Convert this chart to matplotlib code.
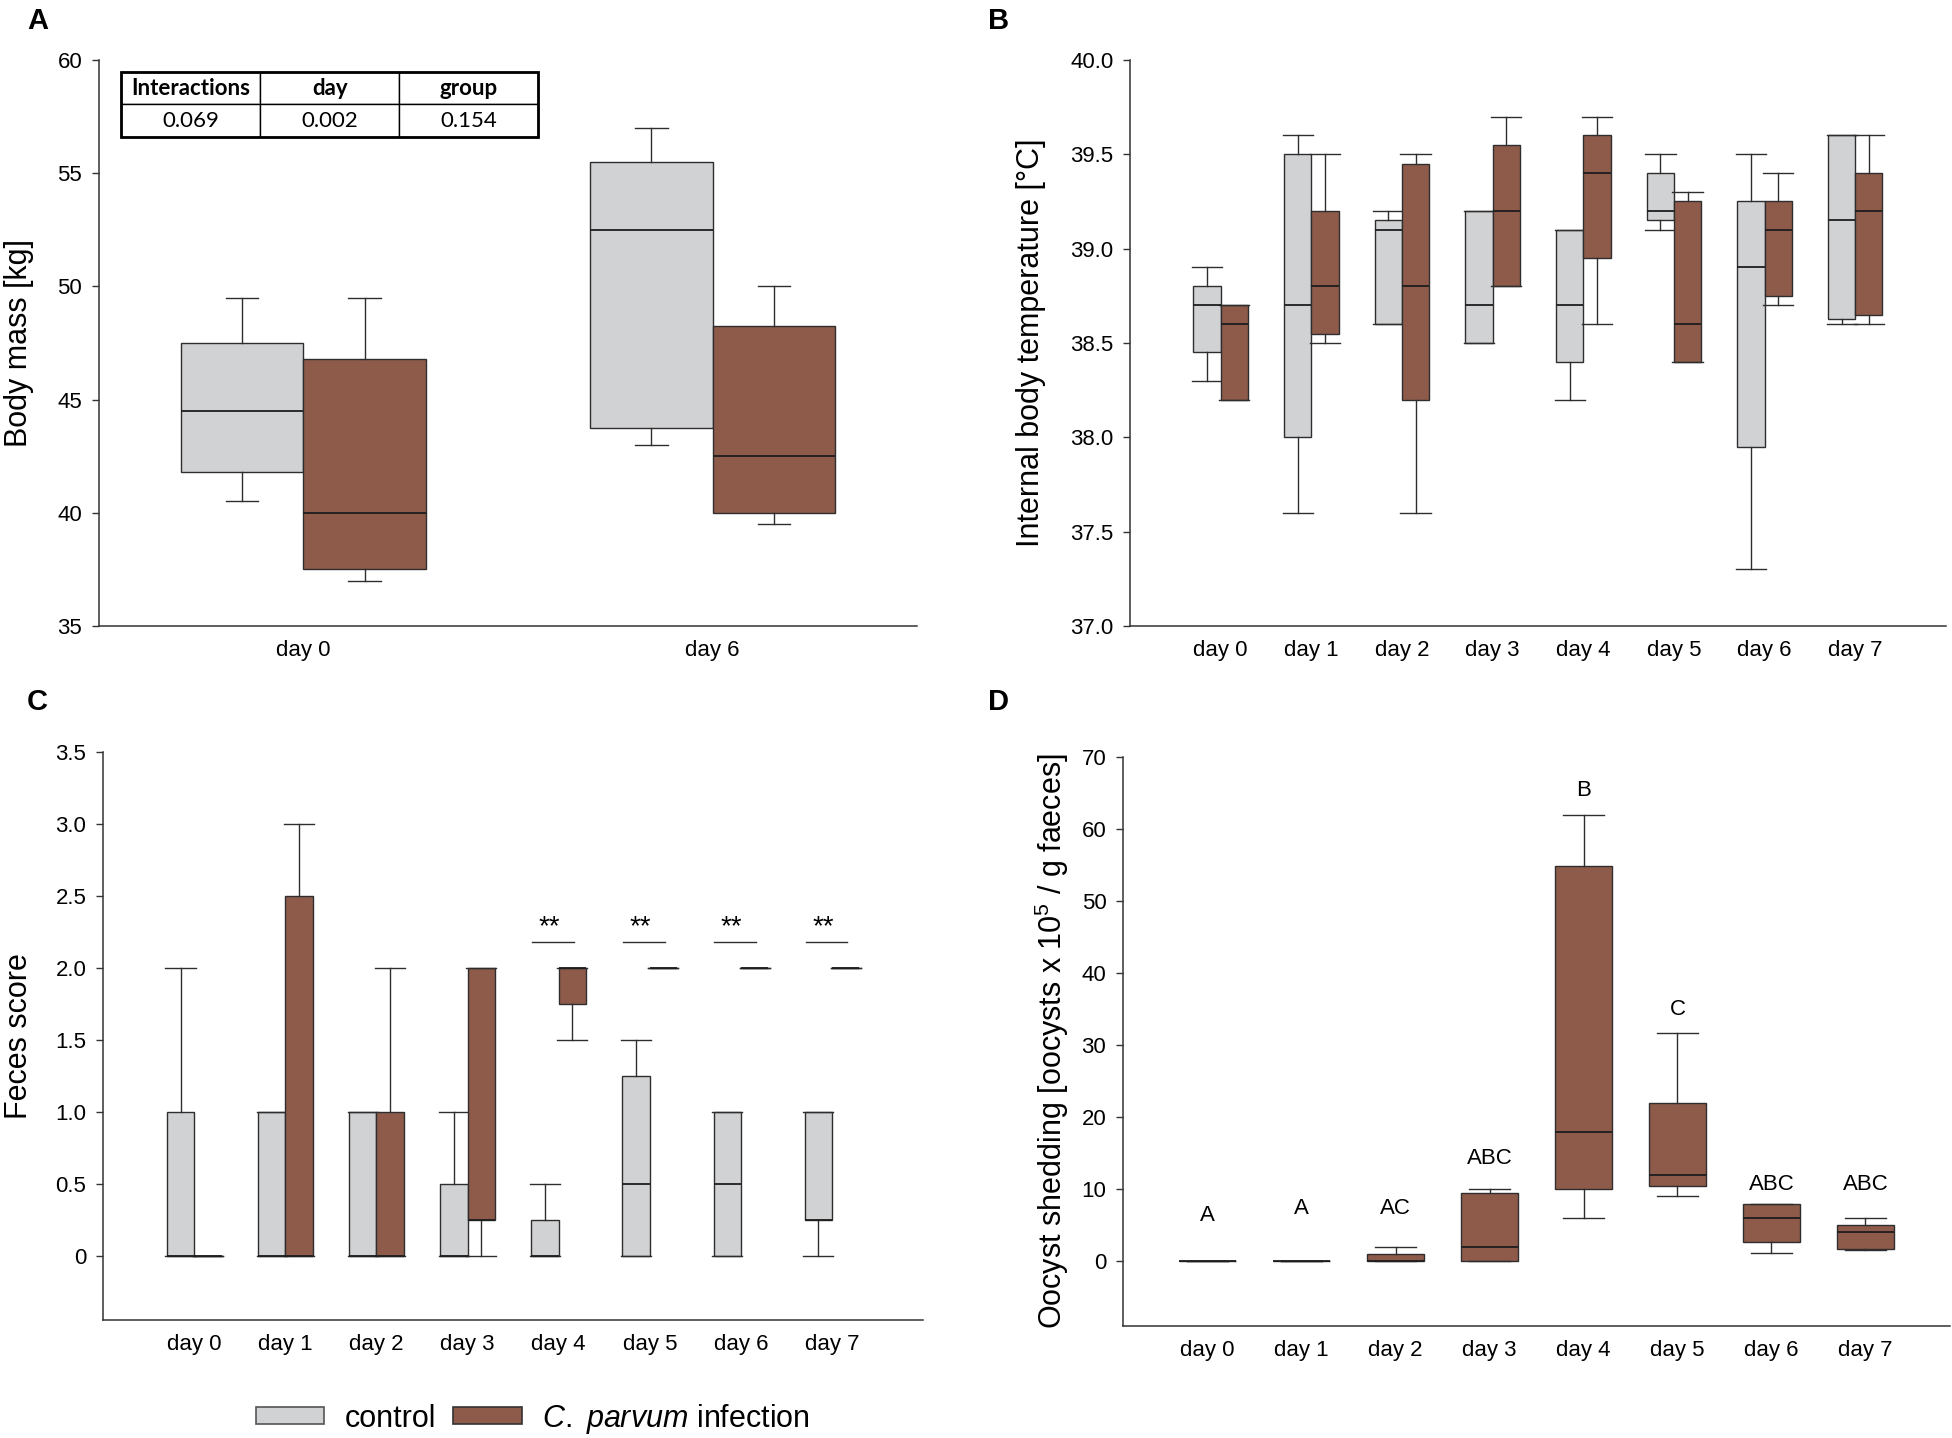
import matplotlib
matplotlib.use("Agg")
import matplotlib.pyplot as plt
from matplotlib.patches import Patch, Rectangle

plt.rcParams['font.family'] = ['Liberation Sans', 'DejaVu Sans']
plt.rcParams['mathtext.fontset'] = 'custom'
plt.rcParams['mathtext.rm'] = 'Liberation Sans'
plt.rcParams['mathtext.it'] = 'Liberation Sans:italic'

NARROW = ['Liberation Sans Narrow', 'Liberation Sans', 'DejaVu Sans']
CONTROL = '#D1D2D4'
INFECT = '#8E5B4B'
EDGE = '#2E2E2E'

# box stats per group: (whislo, q1, median, q3, whishi)

# A - body mass
mass_days = ['day 0', 'day 6']
mass_control = [(40.5, 41.8, 44.5, 47.5, 49.5), (43.0, 43.75, 52.5, 55.5, 57.0)]
mass_infect = [(37.0, 37.5, 40.0, 46.8, 49.5), (39.5, 40.0, 42.5, 48.25, 50.0)]
table_cols = ['Interactions', 'day', 'group']
table_vals = ['0.069', '0.002', '0.154']

days = ['day 0', 'day 1', 'day 2', 'day 3', 'day 4', 'day 5', 'day 6', 'day 7']

# B - internal body temperature
temp_control = [(38.3, 38.45, 38.7, 38.8, 38.9),
                (37.6, 38.0, 38.7, 39.5, 39.6),
                (38.6, 38.6, 39.1, 39.15, 39.2),
                (38.5, 38.5, 38.7, 39.2, 39.2),
                (38.2, 38.4, 38.7, 39.1, 39.1),
                (39.1, 39.15, 39.2, 39.4, 39.5),
                (37.3, 37.95, 38.9, 39.25, 39.5),
                (38.6, 38.625, 39.15, 39.6, 39.6)]
temp_infect = [(38.2, 38.2, 38.6, 38.7, 38.7),
               (38.5, 38.55, 38.8, 39.2, 39.5),
               (37.6, 38.2, 38.8, 39.45, 39.5),
               (38.8, 38.8, 39.2, 39.55, 39.7),
               (38.6, 38.95, 39.4, 39.6, 39.7),
               (38.4, 38.4, 38.6, 39.25, 39.3),
               (38.7, 38.75, 39.1, 39.25, 39.4),
               (38.6, 38.65, 39.2, 39.4, 39.6)]

# C - feces score
feces_control = [(0, 0, 0, 1.0, 2.0),
                 (0, 0, 0, 1.0, 1.0),
                 (0, 0, 0, 1.0, 1.0),
                 (0, 0, 0, 0.5, 1.0),
                 (0, 0, 0, 0.25, 0.5),
                 (0, 0, 0.5, 1.25, 1.5),
                 (0, 0, 0.5, 1.0, 1.0),
                 (0, 0.25, 0.25, 1.0, 1.0)]
feces_infect = [(0, 0, 0, 0, 0),
                (0, 0, 0, 2.5, 3.0),
                (0, 0, 0, 1.0, 2.0),
                (0, 0.25, 0.25, 2.0, 2.0),
                (1.5, 1.75, 2.0, 2.0, 2.0),
                (2.0, 2.0, 2.0, 2.0, 2.0),
                (2.0, 2.0, 2.0, 2.0, 2.0),
                (2.0, 2.0, 2.0, 2.0, 2.0)]
feces_sig_days = [4, 5, 6, 7]

# D - oocyst shedding (infected group only)
oocyst = [(0, 0, 0, 0, 0),
          (0, 0, 0, 0, 0),
          (0, 0, 0, 1.0, 2.0),
          (0, 0, 2.0, 9.5, 10.0),
          (6.0, 10.0, 18.0, 54.8, 62.0),
          (9.0, 10.5, 12.0, 21.9, 31.7),
          (1.2, 2.6, 6.0, 8.0, 8.0),
          (1.5, 1.75, 4.0, 5.0, 6.0)]
oocyst_letters = ['A', 'A', 'AC', 'ABC', 'B', 'C', 'ABC', 'ABC']
oocyst_letter_y = [6.4, 7.3, 7.3, 14.3, 65.4, 35.0, 10.6, 10.6]


def to_stats(rows):
    return [dict(whislo=a, q1=b, med=c, q3=d, whishi=e, fliers=[]) for a, b, c, d, e in rows]


def draw_boxes(ax, rows, positions, width, capw, color):
    ax.bxp(to_stats(rows), positions=positions, widths=width, capwidths=capw,
           patch_artist=True, showfliers=False, manage_ticks=False,
           boxprops=dict(facecolor=color, edgecolor=EDGE, linewidth=1.0),
           whiskerprops=dict(color=EDGE, linewidth=1.0),
           capprops=dict(color=EDGE, linewidth=1.0),
           medianprops=dict(color='#1E1E1E', linewidth=1.3))


def style(ax, xticklabels, xlim, ylim, yticks, yticklabels, ylabel, labelx, family):
    for s in ['top', 'right']:
        ax.spines[s].set_visible(False)
    for s in ['left', 'bottom']:
        ax.spines[s].set_linewidth(1.1)
        ax.spines[s].set_color('#333333')
    ax.set_xlim(*xlim)
    ax.set_ylim(*ylim)
    ax.set_xticks(range(len(xticklabels)))
    ax.set_xticklabels(xticklabels)
    ax.set_yticks(yticks)
    ax.set_yticklabels(yticklabels)
    ax.tick_params(axis='x', length=0, pad=10, labelsize=16)
    ax.tick_params(axis='y', direction='out', length=5, width=1, pad=7, labelsize=16, color='#333333')
    for lbl in ax.get_xticklabels() + ax.get_yticklabels():
        lbl.set_family(family)
    ax.set_ylabel(ylabel, fontsize=22, va='center')
    ax.yaxis.set_label_coords(labelx, 0.5)


fig = plt.figure(figsize=(19.52, 14.38), dpi=100)
axA = fig.add_axes([0.0507, 0.5647, 0.4191, 0.3936])
axB = fig.add_axes([0.5789, 0.5647, 0.4180, 0.3936])
axC = fig.add_axes([0.0528, 0.0821, 0.4201, 0.3950])
axD = fig.add_axes([0.5753, 0.0779, 0.4237, 0.3957])

# A
xa = range(len(mass_days))
draw_boxes(axA, mass_control, [x - 0.15 for x in xa], 0.3, 0.08, CONTROL)
draw_boxes(axA, mass_infect, [x + 0.15 for x in xa], 0.3, 0.08, INFECT)
style(axA, mass_days, (-0.5, 1.5), (35, 60), range(35, 61, 5),
      [str(v) for v in range(35, 61, 5)], 'Body mass [kg]', -0.098,
      ['Liberation Sans', 'DejaVu Sans'])
tab = axA.table(cellText=[table_vals], colLabels=table_cols, cellLoc='center',
                bbox=[0.027, 0.864, 0.510, 0.115])
tab.auto_set_font_size(False)
for (r, c), cell in tab.get_celld().items():
    cell.set_linewidth(1.0)
    cell.get_text().set_fontsize(16)
    cell.get_text().set_family(['Lato', 'DejaVu Sans'])
    if r == 0:
        cell.get_text().set_fontweight('bold')
axA.add_patch(Rectangle((0.027, 0.864), 0.510, 0.115, transform=axA.transAxes,
                        fill=False, lw=2.0, edgecolor='black', zorder=5))

# B
xb = range(len(days))
draw_boxes(axB, temp_control, [x - 0.15 for x in xb], 0.3, 0.335, CONTROL)
draw_boxes(axB, temp_infect, [x + 0.15 for x in xb], 0.3, 0.335, INFECT)
bt = [37.0 + 0.5 * i for i in range(7)]
style(axB, days, (-1.0, 8.0), (37.0, 40.0), bt, ['%.1f' % v for v in bt],
      'Internal body temperature [°C]', -0.121, NARROW)

# C
draw_boxes(axC, feces_control, [x - 0.15 for x in xb], 0.3, 0.33, CONTROL)
draw_boxes(axC, feces_infect, [x + 0.15 for x in xb], 0.3, 0.33, INFECT)
ct = [0.5 * i for i in range(8)]
style(axC, days, (-1.0, 8.0), (-0.447, 3.5), ct,
      ['0'] + ['%.1f' % v for v in ct[1:]], 'Feces score', -0.102, NARROW)
for d in feces_sig_days:
    axC.plot([d - 0.29, d + 0.17], [2.18, 2.18], color=EDGE, lw=1.0)
    axC.text(d - 0.1, 2.19, '**', ha='center', va='bottom', fontsize=20, family=NARROW)

# D
draw_boxes(axD, oocyst, list(xb), 0.6, 0.43, INFECT)
dt = list(range(0, 71, 10))
style(axD, days, (-0.9, 7.9), (-9, 70), dt, [str(v) for v in dt],
      r'Oocyst shedding [oocysts x 10$^5$ / g faeces]', -0.086, NARROW)
for x, lab, y in zip(xb, oocyst_letters, oocyst_letter_y):
    axD.text(x, y, lab, ha='center', va='center', fontsize=16, family=NARROW)

# panel letters
for x, y, lab in [(0.0138, 0.995, 'A'), (0.506, 0.995, 'B'), (0.0138, 0.5216, 'C'), (0.506, 0.5216, 'D')]:
    fig.text(x, y, lab, fontsize=21, fontweight='bold', va='top', ha='left')

handles = [Patch(facecolor=CONTROL, edgecolor='#555555', linewidth=1.2, label='control'),
           Patch(facecolor=INFECT, edgecolor='#333333', linewidth=1.2,
                 label=r'$\mathit{C.\ parvum}$ infection')]
fig.legend(handles=handles, loc='center', bbox_to_anchor=(0.273, 0.0135), ncol=2,
           frameon=False, fontsize=22, handlelength=2.25, handleheight=0.5,
           handletextpad=0.67, columnspacing=0.55, borderpad=0)

fig.savefig('out.png', dpi=100)
